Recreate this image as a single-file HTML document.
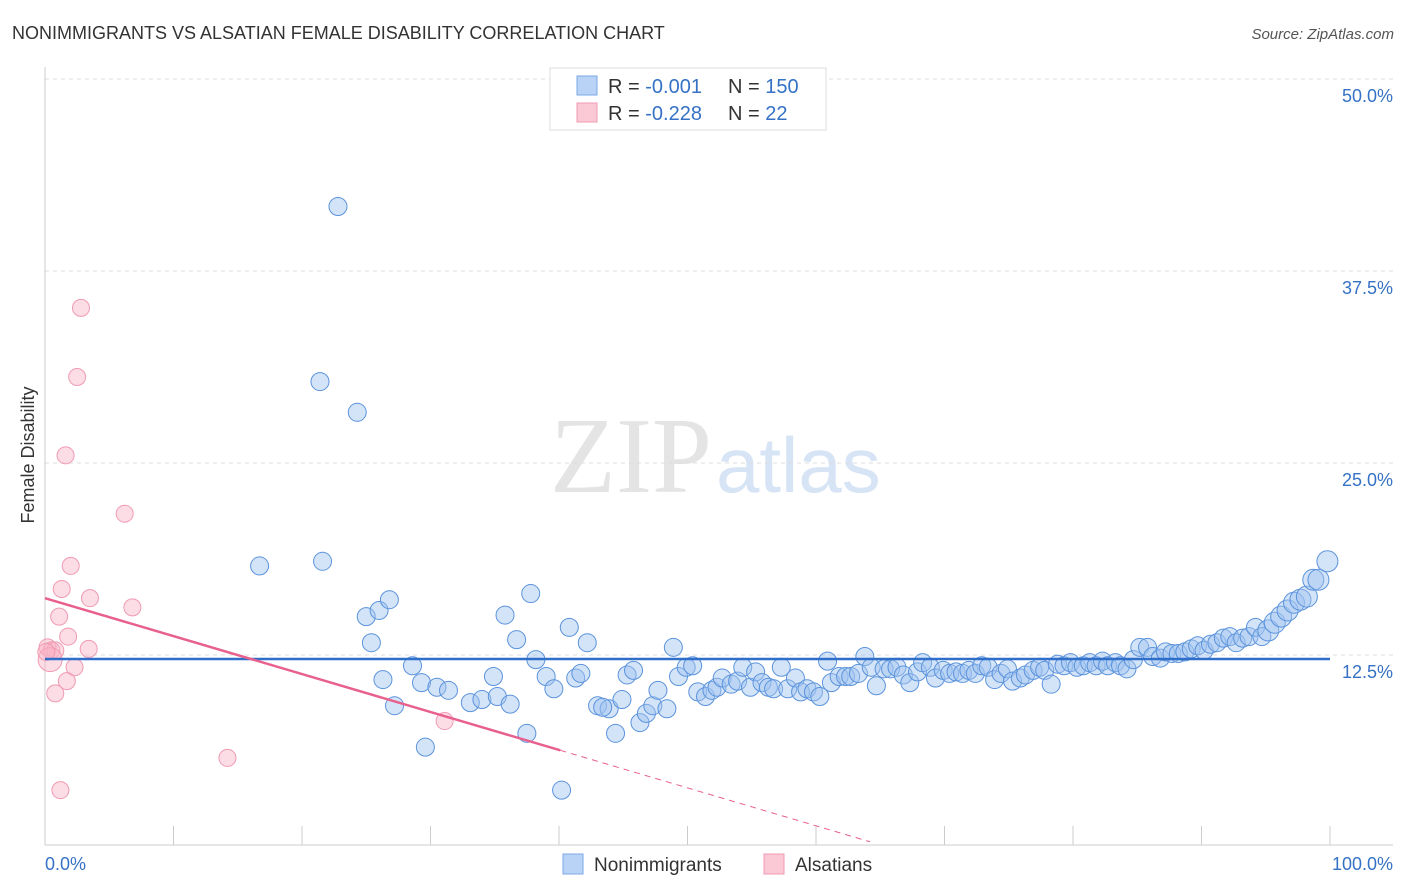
<!DOCTYPE html>
<html><head><meta charset="utf-8"><style>
body{margin:0;background:#fff;font-family:"Liberation Sans",sans-serif;}
svg{display:block}
</style></head><body>
<svg id="chart" width="1406" height="892" xmlns="http://www.w3.org/2000/svg">
<text x="12" y="39" font-size="18" fill="#333">NONIMMIGRANTS VS ALSATIAN FEMALE DISABILITY CORRELATION CHART</text>
<text x="1394" y="39" font-size="15" fill="#555" font-style="italic" text-anchor="end">Source: ZipAtlas.com</text>
<text x="712" y="492" font-size="108" fill="#e4e4e4" text-anchor="end" font-family="Liberation Serif,serif">ZIP</text>
<text x="716" y="492" font-size="78" fill="#d6e4f5">atlas</text>
<g id="grid"></g>
<g id="axes"></g>
<g id="marks"></g>
<text transform="translate(34,455) rotate(-90)" font-size="18" fill="#333" text-anchor="middle">Female Disability</text>
<g>
<rect x="550" y="68" width="276" height="62" fill="#fff" stroke="#ddd"/>
<rect x="577" y="76" width="20" height="19" fill="#b8d3f5" stroke="#7aa9e6"/>
<rect x="577" y="103" width="20" height="19" fill="#fbc8d6" stroke="#f09ab3"/>
<text x="608" y="93" font-size="20" fill="#333">R = <tspan fill="#3572c6">-0.001</tspan></text>
<text x="728" y="93" font-size="20" fill="#333">N = <tspan fill="#3572c6">150</tspan></text>
<text x="608" y="120" font-size="20" fill="#333">R = <tspan fill="#3572c6">-0.228</tspan></text>
<text x="728" y="120" font-size="20" fill="#333">N = <tspan fill="#3572c6"> 22</tspan></text>
</g>
<g>
<rect x="563" y="854" width="20" height="20" fill="#b8d3f5" stroke="#7aa9e6"/>
<text x="594" y="871" font-size="19" fill="#333">Nonimmigrants</text>
<rect x="764" y="854" width="20" height="20" fill="#fbc8d6" stroke="#f09ab3"/>
<text x="795" y="871" font-size="19" fill="#333">Alsatians</text>
</g>
</svg>
<script>
const yTicks=[12.5,25,37.5,50];
const yTickLabels=["12.5%","25.0%","37.5%","50.0%"];
const xTickLabels=["0.0%","100.0%"];
const blueX=[22.8,21.4,24.3,16.7,21.6,25.0,26.0,26.8,25.4,26.3,27.2,28.6,29.3,30.5,31.4,29.6,33.1,34.0,34.9,35.2,36.2,35.8,36.7,37.8,38.2,39.0,39.6,37.5,40.2,40.8,41.3,42.2,41.7,43.0,43.9,44.4,44.9,45.3,45.8,46.3,46.8,47.3,47.7,48.4,48.9,49.3,49.9,50.4,50.8,51.4,51.9,52.3,52.7,53.4,53.9,54.3,54.9,55.3,55.8,56.3,56.7,57.3,57.8,58.4,58.8,59.3,59.8,60.3,60.9,61.2,61.8,62.3,62.7,63.3,63.8,64.3,64.7,65.3,65.8,66.3,66.8,67.3,67.9,68.3,68.9,69.3,69.9,70.4,70.9,71.4,71.9,72.4,72.9,73.4,73.9,74.4,74.9,75.3,75.9,76.3,76.9,77.4,77.8,78.3,78.8,79.3,79.8,80.3,80.8,81.3,81.8,82.3,82.7,83.3,83.7,84.2,84.7,85.2,85.8,86.2,86.8,87.2,87.7,88.2,88.7,89.2,89.7,90.2,90.7,91.2,91.7,92.2,92.7,93.2,93.7,94.2,94.7,95.2,95.7,96.2,96.7,97.2,97.7,98.2,98.7,99.1,99.8,43.4];
const blueY=[41.7,30.3,28.3,18.3,18.6,15.0,15.4,16.1,13.3,10.9,9.2,11.8,10.7,10.4,10.2,6.5,9.4,9.6,11.1,9.8,9.3,15.1,13.5,16.5,12.2,11.1,10.3,7.4,3.7,14.3,11.0,13.3,11.3,9.2,9.0,7.4,9.6,11.2,11.5,8.1,8.7,9.2,10.2,9.0,13.0,11.1,11.7,11.8,10.1,9.8,10.2,10.4,11.0,10.6,10.8,11.7,10.4,11.4,10.7,10.4,10.3,11.7,10.3,11.0,10.1,10.3,10.1,9.8,12.1,10.7,11.1,11.1,11.1,11.3,12.4,11.7,10.5,11.6,11.6,11.7,11.2,10.7,11.4,12.0,11.7,11.0,11.5,11.3,11.4,11.3,11.5,11.3,11.8,11.7,10.9,11.3,11.6,10.8,11.0,11.2,11.5,11.7,11.5,10.6,11.9,11.8,12.0,11.7,11.8,12.0,11.8,12.1,11.8,12.0,11.8,11.6,12.2,13.0,13.0,12.4,12.3,12.7,12.6,12.6,12.7,12.9,13.1,12.8,13.2,13.3,13.6,13.7,13.3,13.6,13.7,14.3,13.7,14.1,14.6,15.0,15.4,15.9,16.1,16.3,17.4,17.4,18.6,9.1];
const pinkX=[2.8,2.5,1.6,6.2,2.0,1.3,3.5,6.8,1.1,1.8,0.2,0.5,0.8,3.4,0.4,2.3,1.7,0.8,31.1,14.2,1.2,0.1];
const pinkY=[35.1,30.6,25.5,21.7,18.3,16.8,16.2,15.6,15.0,13.7,13.0,12.8,12.8,12.9,12.2,11.7,10.8,10.0,8.2,5.8,3.7,12.7];
const blueTrend=[12.24,12.24];
const pinkTrend=[16.2,-0.247];
const X0=45,X1=1330,YB=847,PXPER=15.36;
const sx=v=>X0+(X1-X0)*v/100;
const sy=v=>YB-v*PXPER;
const NS="http://www.w3.org/2000/svg";
function mk(tag,attrs,parent){const e=document.createElementNS(NS,tag);for(const k in attrs)e.setAttribute(k,attrs[k]);parent.appendChild(e);return e;}
const grid=document.getElementById('grid'),axes=document.getElementById('axes'),marks=document.getElementById('marks');
yTicks.forEach((t,i)=>{
 const g=mk('line',{x1:45,x2:1393,y1:sy(t),y2:sy(t),stroke:'#ddd','stroke-dasharray':'4,4'},grid);
 
 
 const l=mk('text',{x:1393,y:sy(t)+23,'font-size':18,fill:'#3572c6','text-anchor':'end'},axes);
 l.textContent=yTickLabels[i];
 
 
});
const ya=mk('line',{x1:45,x2:45,y1:67,y2:845,stroke:'#ccc'},axes);


const xa=mk('line',{x1:45,x2:1393,y1:845,y2:845,stroke:'#ccc'},axes);


for(let i=1;i<=10;i++){const t=mk('line',{x1:sx(i*10),x2:sx(i*10),y1:826,y2:845,stroke:'#ccc'},axes);
 
 }
[[0,'start',45],[100,'end',1393]].forEach((a,i)=>{const t=mk('text',{x:a[2],y:870,'font-size':18,fill:'#3572c6','text-anchor':a[1]},axes);t.textContent=xTickLabels[i];
 
 });
pinkX.forEach((x,i)=>{const c=mk('circle',{cx:sx(x),cy:sy(pinkY[i]),r:i==14?12:8.5,fill:'rgba(248,180,200,0.45)',stroke:'#f09ab3','stroke-width':1},marks);
 
 });
blueX.forEach((x,i)=>{const c=mk('circle',{cx:sx(x),cy:sy(blueY[i]),r:x>95?10.5:9,fill:'rgba(160,196,240,0.45)',stroke:'#5b93dc','stroke-width':1},marks);
 
 });
const bl=mk('line',{x1:sx(0),x2:sx(100),y1:sy(blueTrend[0]),y2:sy(blueTrend[1]),stroke:'#2f6fc9','stroke-width':2.5},marks);


const pf=x=>pinkTrend[0]+pinkTrend[1]*x;
const pl=mk('line',{x1:sx(0),x2:sx(40.1),y1:sy(pf(0)),y2:sy(pf(40.1)),stroke:'#e8608d','stroke-width':2.5},marks);


const pd=mk('line',{x1:sx(40.1),x2:sx(64.2),y1:sy(pf(40.1)),y2:sy(pf(64.2)),stroke:'#e8608d','stroke-width':1,'stroke-dasharray':'6,5'},marks);


</script>
</body></html>
